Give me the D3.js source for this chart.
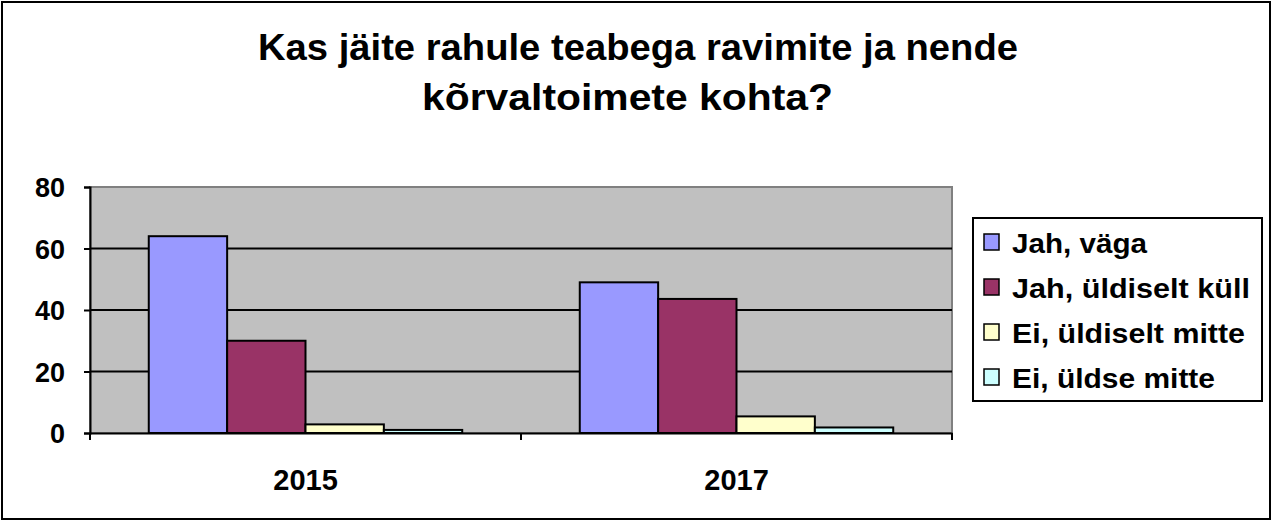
<!DOCTYPE html>
<html lang="et">
<head>
    <meta charset="UTF-8">
    <title>Kas jäite rahule teabega</title>
    <style>
        body {
            margin: 0;
            background: white;
        }
        text {
            font-family: "Liberation Sans", Arial, sans-serif;
            font-weight: bold;
            fill: black;
        }
    </style>
    <script src="https://d3js.org/d3.v7.min.js"></script>
</head>
<body>
    <div id="chart"></div>

    <script>
        // data
        const years = ['2015', '2017'];
        const seriesNames = ['Jah, väga', 'Jah, üldiselt küll', 'Ei, üldiselt mitte', 'Ei, üldse mitte'];
        const seriesColors = ['#9999FF', '#993366', '#FFFFCC', '#CCFFFF'];
        const values2015 = [64, 30, 2.8, 1];
        const values2017 = [49, 43.6, 5.4, 1.8];
        const yTicks = [0, 20, 40, 60, 80];
        const titleLines = ['Kas jäite rahule teabega ravimite ja nende', 'kõrvaltoimete kohta?'];

        const valuesByYear = [values2015, values2017];

        const width = 1275;
        const height = 522;
        const plot = { left: 90, top: 187, right: 952, bottom: 433 };
        const fontFamily = '"Liberation Sans", Arial, sans-serif';

        const svg = d3.select('#chart')
            .append('svg')
            .attr('width', width)
            .attr('height', height);

        // outer frame
        svg.append('rect')
            .attr('x', 2).attr('y', 2)
            .attr('width', 1268).attr('height', 517)
            .attr('fill', 'white')
            .attr('stroke', 'black')
            .attr('stroke-width', 2);

        // title (the original is a bit wider than Liberation, so stretch it)
        const titlePos = [{ x: 258, y: 60, len: 760 }, { x: 422, y: 110, len: 411 }];
        svg.append('g')
            .selectAll('text')
            .data(titleLines)
            .join('text')
            .attr('x', (d, i) => titlePos[i].x)
            .attr('y', (d, i) => titlePos[i].y)
            .attr('textLength', (d, i) => titlePos[i].len)
            .attr('lengthAdjust', 'spacingAndGlyphs')
            .style('font-size', '36px')
            .text(d => d);

        const x0 = d3.scaleBand()
            .domain(years)
            .range([plot.left, plot.right])
            .padding(0);

        const x1 = d3.scaleBand()
            .domain(seriesNames)
            .range([0, x0.bandwidth()])
            .paddingInner(0)
            .paddingOuter(0.75);

        const y = d3.scaleLinear()
            .domain([0, 80])
            .range([plot.bottom, plot.top]);

        // plot background
        svg.append('rect')
            .attr('x', plot.left).attr('y', plot.top)
            .attr('width', plot.right - plot.left)
            .attr('height', plot.bottom - plot.top)
            .attr('fill', '#C0C0C0')
            .attr('stroke', '#808080')
            .attr('stroke-width', 2);

        // gridlines
        svg.append('g')
            .selectAll('line')
            .data(yTicks.filter(t => t > 0 && t < 80))
            .join('line')
            .attr('x1', plot.left).attr('x2', plot.right)
            .attr('y1', d => y(d)).attr('y2', d => y(d))
            .attr('stroke', 'black')
            .attr('stroke-width', 2);

        // bars
        const group = svg.append('g')
            .selectAll('g')
            .data(years)
            .join('g')
            .attr('transform', d => `translate(${x0(d)},0)`);

        group.selectAll('rect')
            .data((d, i) => seriesNames.map((s, j) => ({ series: s, value: valuesByYear[i][j], color: seriesColors[j] })))
            .join('rect')
            .attr('x', d => x1(d.series))
            .attr('width', x1.bandwidth())
            .attr('y', d => y(d.value))
            .attr('height', d => y(0) - y(d.value))
            .attr('fill', d => d.color)
            .attr('stroke', 'black')
            .attr('stroke-width', 2);

        // y axis
        const yAxis = svg.append('g')
            .attr('transform', `translate(${plot.left},0)`)
            .call(d3.axisLeft(y).tickValues(yTicks).tickSize(6).tickPadding(19));
        yAxis.select('.domain').attr('stroke', 'black').attr('stroke-width', 2);
        yAxis.selectAll('.tick line').attr('stroke', 'black').attr('stroke-width', 2);
        yAxis.selectAll('.tick text')
            .style('font-size', '27px')
            .style('font-family', fontFamily)
            .attr('dy', '0.36em');

        // x axis
        const xAxis = svg.append('g')
            .attr('transform', `translate(0,${plot.bottom})`)
            .call(d3.axisBottom(x0).tickSize(0));
        xAxis.select('.domain').attr('stroke', 'black').attr('stroke-width', 2);
        xAxis.selectAll('.tick text')
            .attr('y', 57)
            .attr('dy', 0)
            .style('font-size', '29px')
            .style('font-family', fontFamily);

        // category separator ticks
        const sepTicks = [plot.left].concat(years.map(d => x0(d) + x0.bandwidth()));
        svg.append('g')
            .selectAll('line')
            .data(sepTicks)
            .join('line')
            .attr('x1', d => d).attr('x2', d => d)
            .attr('y1', plot.bottom).attr('y2', plot.bottom + 7)
            .attr('stroke', 'black')
            .attr('stroke-width', 2);

        // legend
        const legendLens = [135, 238, 233, 203];
        const legend = svg.append('g')
            .attr('transform', 'translate(973,218)');

        legend.append('rect')
            .attr('width', 289)
            .attr('height', 183)
            .attr('fill', 'white')
            .attr('stroke', 'black')
            .attr('stroke-width', 2);

        const item = legend.selectAll('g.item')
            .data(seriesNames)
            .join('g')
            .attr('class', 'item')
            .attr('transform', (d, i) => `translate(0,${35 + i * 45})`);

        item.append('rect')
            .attr('x', 11)
            .attr('y', -19)
            .attr('width', 15)
            .attr('height', 16)
            .attr('fill', (d, i) => seriesColors[i])
            .attr('stroke', 'black')
            .attr('stroke-width', 1.5);

        item.append('text')
            .attr('x', 39)
            .attr('textLength', (d, i) => legendLens[i])
            .attr('lengthAdjust', 'spacingAndGlyphs')
            .style('font-size', '27px')
            .text(d => d);
    </script>
</body>
</html>
